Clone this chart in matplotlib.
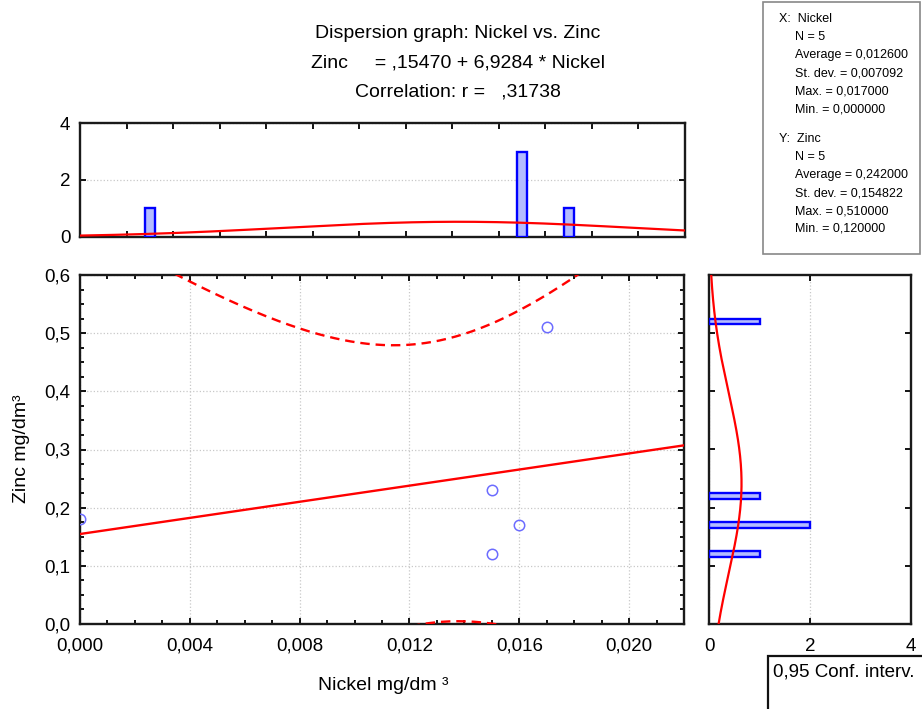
import numpy as np
import matplotlib.pyplot as plt
from matplotlib.patches import Rectangle
from matplotlib.ticker import MultipleLocator

plt.rcParams['font.family'] = ['Liberation Sans', 'DejaVu Sans']

# raw data
nickel = [0.000, 0.015, 0.016, 0.015, 0.017]
zinc = [0.18, 0.23, 0.17, 0.12, 0.51]

# histograms as drawn by the package
ni_bin_width = 0.0019
ni_bin_centers = [0.0, 0.0152, 0.0171]
ni_counts = [1, 3, 1]
zn_bin_width = 0.05
zn_bin_centers = [0.12, 0.17, 0.22, 0.52]
zn_counts = [1, 2, 1, 1]

title_lines = ["Dispersion graph: Nickel vs. Zinc",
               "Zinc     = ,15470 + 6,9284 * Nickel",
               "Correlation: r =   ,31738"]
stats_x = ["X:  Nickel", "N = 5", "Average = 0,012600", "St. dev. = 0,007092",
           "Max. = 0,017000", "Min. = 0,000000"]
stats_y = ["Y:  Zinc", "N = 5", "Average = 0,242000", "St. dev. = 0,154822",
           "Max. = 0,510000", "Min. = 0,120000"]

RED = '#ff0000'
BLUE = '#0000ff'
FILL = '#b4bcff'
GRID = dict(color='#c8c8c8', linestyle=':', linewidth=0.9)
W, H = 922, 709


def frac(x0, y0, x1, y1):
    return [x0 / W, 1 - y1 / H, (x1 - x0) / W, (y1 - y0) / H]


def comma(v, fmt):
    return (fmt % v).replace('.', ',')


def style(ax):
    for s in ax.spines.values():
        s.set_linewidth(1.7)
        s.set_color('#1a1a1a')
    ax.tick_params(which='both', direction='in', top=True, right=True,
                   labelsize=13.5, width=1.3, pad=7)
    ax.tick_params(axis='x', which='both', pad=10)
    ax.tick_params(which='major', length=4)
    ax.tick_params(which='minor', length=3)


fig = plt.figure(figsize=(9.22, 7.09), dpi=100)

# ---- main scatter
ax = fig.add_axes(frac(80, 275, 684, 624))
x = np.array(nickel)
y = np.array(zinc)
n = len(x)
slope, icpt = np.polyfit(x, y, 1)
xs = np.linspace(0, 0.022, 300)
fit = icpt + slope * xs
resid = y - (icpt + slope * x)
s = np.sqrt((resid ** 2).sum() / (n - 2))
sxx = ((x - x.mean()) ** 2).sum()
hw = 3.182 * s * np.sqrt(1 / n + (xs - x.mean()) ** 2 / sxx)

ax.plot(xs, fit, color=RED, lw=1.7, zorder=3)
ax.plot(xs, fit + hw, color=RED, lw=1.7, ls=(0, (4, 2.5)), zorder=3)
ax.plot(xs, fit - hw, color=RED, lw=1.7, ls=(0, (4, 2.5)), zorder=3)
ax.plot(x, y, 'o', mfc='none', mec='#6c6cff', ms=7.5, mew=1.1, zorder=4)

ax.set_xlim(0, 0.022)
ax.set_ylim(0, 0.6)
ax.xaxis.set_minor_locator(MultipleLocator(0.001))
ax.yaxis.set_minor_locator(MultipleLocator(0.025))
ax.set_xticks(np.arange(0, 0.0221, 0.004))
ax.set_xticklabels([comma(v, '%.3f') for v in np.arange(0, 0.0221, 0.004)])
ax.set_yticks(np.arange(0, 0.61, 0.1))
ax.set_yticklabels([comma(v, '%.1f') for v in np.arange(0, 0.61, 0.1)])
ax.grid(True, which='major', **GRID)
style(ax)

# ---- top histogram (Nickel)
axt = fig.add_axes(frac(80, 123, 685, 237))
axt.bar(ni_bin_centers, ni_counts, width=ni_bin_width * 0.22, color=FILL,
        edgecolor=BLUE, linewidth=1.7, zorder=3)
xt = np.linspace(-1.5 * ni_bin_width, 11.5 * ni_bin_width, 300)
sdx = x.std(ddof=1)
axt.plot(xt, n * ni_bin_width * np.exp(-0.5 * ((xt - x.mean()) / sdx) ** 2)
         / (sdx * np.sqrt(2 * np.pi)), color=RED, lw=1.6, zorder=4)
axt.set_xlim(-1.5 * ni_bin_width, 11.5 * ni_bin_width)
axt.set_ylim(0, 4)
axt.set_xticks(np.arange(-0.5, 11, 1) * ni_bin_width)
axt.set_xticklabels([])
axt.set_yticks([0, 2, 4])
axt.grid(True, axis='y', **GRID)
style(axt)

# ---- right histogram (Zinc)
axr = fig.add_axes(frac(709, 275, 911, 624))
axr.barh(zn_bin_centers, zn_counts, height=zn_bin_width * 0.2, color=FILL,
         edgecolor=BLUE, linewidth=1.7, zorder=3)
yr = np.linspace(0, 0.6, 300)
sdy = y.std(ddof=1)
axr.plot(n * zn_bin_width * np.exp(-0.5 * ((yr - y.mean()) / sdy) ** 2)
         / (sdy * np.sqrt(2 * np.pi)), yr, color=RED, lw=1.6, zorder=4)
axr.set_xlim(0, 4)
axr.set_ylim(0, 0.6)
axr.set_xticks([0, 2, 4])
axr.set_yticks(np.arange(0.1, 0.51, 0.1))
axr.set_yticklabels([])
axr.grid(True, axis='x', **GRID)
style(axr)

# ---- titles and labels
for i, t in enumerate(title_lines):
    fig.text(458 / W, 1 - (33 + 29.5 * i) / H, t, ha='center', va='center', fontsize=14)
fig.text(383 / W, 1 - 686 / H, 'Nickel mg/dm ³', ha='center', va='center', fontsize=14)
fig.text(22 / W, 1 - 449 / H, 'Zinc mg/dm³', ha='center', va='center',
         rotation=90, fontsize=14)

# ---- statistics box
fig.patches.append(Rectangle((763 / W, 1 - 254 / H), 157 / W, 252 / H,
                             transform=fig.transFigure, fill=False,
                             edgecolor='#888888', lw=1.2))
for j, block in enumerate([stats_x, stats_y]):
    for i, t in enumerate(block):
        xx = 779 if i == 0 else 795
        fig.text(xx / W, 1 - (19 + 120 * j + 18 * i) / H, t, ha='left',
                 va='center', fontsize=9)

# ---- confidence legend box
fig.patches.append(Rectangle((768 / W, -0.05), 0.2, (709 - 656) / H + 0.05,
                             transform=fig.transFigure, fill=False,
                             edgecolor='#111111', lw=1.6))
fig.text(773 / W, 1 - 672 / H, '0,95 Conf. interv.', ha='left', va='center', fontsize=13.5)

fig.savefig('out.png', dpi=100)
